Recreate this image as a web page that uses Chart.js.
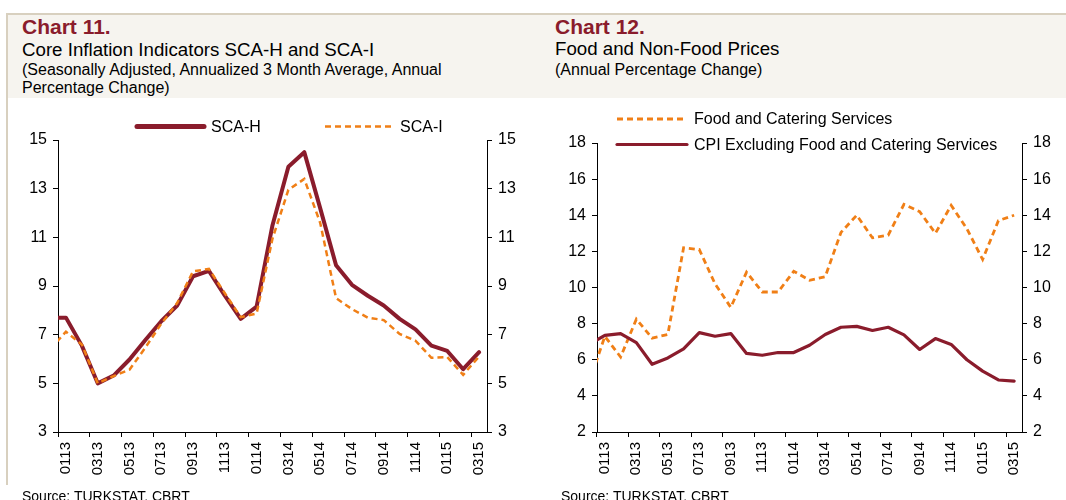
<!DOCTYPE html>
<html><head><meta charset="utf-8">
<script src="https://cdn.jsdelivr.net/npm/chart.js@4/dist/chart.umd.min.js"></script>
<style>
html,body{margin:0;padding:0;background:#fff;width:1066px;height:500px;overflow:hidden;font-family:"Liberation Sans",Arial,sans-serif;}
#hdr{position:absolute;left:7px;top:13px;width:1059px;height:83px;background:#f6f4ef;border-top:2px solid #d8d0bf;}
#lborder{position:absolute;left:6px;top:13px;width:1.5px;height:472px;background:#d8d0bf;}
.t{position:absolute;white-space:nowrap;color:#000;}
.t1{font-weight:bold;font-size:21px;line-height:21px;color:#8a1c2c;}
.t2{font-size:18.7px;line-height:18.7px;}
.t3{font-size:16px;line-height:18px;}
.src{font-size:14px;line-height:14px;}
canvas{position:absolute;}
</style></head><body>
<div id="hdr"></div>
<div id="lborder"></div>
<div class="t t1" style="left:22px;top:15.5px">Chart 11.</div>
<div class="t t2" style="left:22px;top:41px">Core Inflation Indicators SCA-H and SCA-I</div>
<div class="t t3" style="left:22px;top:61px">(Seasonally Adjusted, Annualized 3 Month Average, Annual<br>Percentage Change)</div>
<div class="t t1" style="left:555px;top:15.5px">Chart 12.</div>
<div class="t t2" style="left:555px;top:40px">Food and Non-Food Prices</div>
<div class="t t3" style="left:555px;top:61px">(Annual Percentage Change)</div>
<canvas id="c1" width="533" height="404" style="left:0;top:96px"></canvas>
<canvas id="c2" width="533" height="404" style="left:533px;top:96px"></canvas>
<div class="t src" style="left:22px;top:489px">Source: TURKSTAT, CBRT</div>
<div class="t src" style="left:561px;top:489px">Source: TURKSTAT, CBRT</div>
<script>
// Months (first entry is the prior month, only visible as the clipped line start)
const months = ['1212','0113','0213','0313','0413','0513','0613','0713','0813','0913','1013','1113','1213',
                '0114','0214','0314','0414','0514','0614','0714','0814','0914','1014','1114','1214',
                '0115','0215','0315'];
const firstMonth = '0113';

// Chart 11
const scaH = [7.7, 7.7, 6.55, 5.0, 5.32, 5.98, 6.78, 7.55, 8.2, 9.4, 9.62, 8.6, 7.65,
              8.15, 11.5, 13.9, 14.5, 12.2, 9.85, 9.05, 8.6, 8.2, 7.65, 7.22, 6.55,
              6.33, 5.58, 6.28];
const scaI = [6.4, 7.12, 6.6, 5.0, 5.3, 5.56, 6.47, 7.45, 8.3, 9.6, 9.7, 8.7, 7.72,
              7.87, 10.95, 12.95, 13.4, 11.6, 8.5, 8.05, 7.7, 7.6, 7.03, 6.75, 6.05,
              6.08, 5.35, 6.1];
const ticks11 = [3, 5, 7, 9, 11, 13, 15];

// Chart 12
const foodCatering = [4.75, 7.3, 6.15, 8.25, 7.2, 7.4, 12.2, 12.1, 10.2, 8.9, 10.85, 9.75, 9.75,
                      10.9, 10.4, 10.6, 13.05, 14.0, 12.75, 12.9, 14.6, 14.2, 13.0, 14.55, 13.25,
                      11.55, 13.7, 14.0];
const cpiExFood = [6.85, 7.35, 7.45, 6.95, 5.75, 6.1, 6.6, 7.5, 7.3, 7.45, 6.35, 6.25, 6.4,
                   6.4, 6.8, 7.4, 7.8, 7.85, 7.62, 7.8, 7.38, 6.57, 7.17, 6.85, 6.0,
                   5.37, 4.88, 4.82];
const ticks12 = [2, 4, 6, 8, 10, 12, 14, 16, 18];

const RED = '#8a1c2c', ORANGE = '#f07f16';
const FONT = '"Liberation Sans", Arial, sans-serif';
Chart.defaults.font.family = FONT;
Chart.defaults.color = '#000';

const lineLegend = {
  id: 'lineLegend',
  afterDatasetsDraw(chart, args, opts) {
    const ctx = chart.ctx;
    ctx.save();
    opts.items.forEach((it, i) => {
      const ds = chart.data.datasets[i];
      ctx.beginPath();
      ctx.strokeStyle = ds.borderColor;
      ctx.lineWidth = it.w || ds.borderWidth;
      ctx.setLineDash(ds.borderDash || []);
      ctx.lineCap = ds.borderDash ? 'butt' : 'round';
      ctx.moveTo(it.x1, it.y); ctx.lineTo(it.x2, it.y); ctx.stroke();
      ctx.setLineDash([]);
      ctx.fillStyle = '#000';
      ctx.font = opts.font;
      ctx.textBaseline = 'middle';
      ctx.textAlign = 'left';
      ctx.fillText(ds.label, it.tx, it.y + 1);
    });
    ctx.restore();
  }
};

function yAxis(pos, tickVals, width) {
  return {
    type: 'linear', position: pos,
    min: tickVals[0], max: tickVals[tickVals.length - 1],
    ticks: { stepSize: tickVals[1] - tickVals[0], color: '#000', font: { size: 16 }, padding: 6 },
    grid: { drawOnChartArea: false, drawTicks: true, tickLength: 5, tickColor: '#000' },
    border: { display: true, color: '#000', width: 1 },
    afterFit(s) { s.width = width; }
  };
}

function xAxis() {
  return {
    type: 'category', min: firstMonth, offset: true,
    grid: { display: true, drawOnChartArea: false, drawTicks: true, tickLength: 5, offset: true,
            tickColor: c => (c.index % 2 === 0 ? '#000' : 'rgba(0,0,0,0)') },
    border: { display: true, color: '#000', width: 1 },
    ticks: { autoSkip: false, maxRotation: 90, minRotation: 90, padding: 5, color: '#000',
             font: { size: 15 },
             callback(v, i) { return i % 2 === 0 ? this.getLabelForValue(v) : ''; } },
    afterFit(s) { s.height = 68; }
  };
}

function makeChart(id, datasets, tickVals, padLeft, yW, y2W, padTop, legendItems) {
  return new Chart(document.getElementById(id), {
    type: 'line',
    data: { labels: months, datasets },
    options: {
      responsive: false, animation: false,
      layout: { padding: { top: padTop, left: padLeft, right: 0, bottom: 0 } },
      elements: { point: { radius: 0 }, line: { tension: 0 } },
      plugins: { legend: { display: false }, tooltip: { enabled: false },
                 lineLegend: { font: '16px ' + FONT, items: legendItems } },
      scales: { x: xAxis(), y: yAxis('left', tickVals, yW), y2: yAxis('right', tickVals, y2W) }
    },
    plugins: [lineLegend]
  });
}

makeChart('c1', [
  { label: 'SCA-H', data: scaH, borderColor: RED, borderWidth: 4, borderJoinStyle: 'round', borderCapStyle: 'round', order: 1 },
  { label: 'SCA-I', data: scaI, borderColor: ORANGE, borderWidth: 2.5, borderDash: [6, 4], order: 0 }
], ticks11, 0, 58, 46, 44, [
  { x1: 137, x2: 204, y: 30.5, tx: 211, w: 5 },
  { x1: 325, x2: 393, y: 30.5, tx: 400 }
]);

makeChart('c2', [
  { label: 'Food and Catering Services', data: foodCatering, borderColor: ORANGE, borderWidth: 2.8, borderDash: [6, 4], order: 1 },
  { label: 'CPI Excluding Food and Catering Services', data: cpiExFood, borderColor: RED, borderWidth: 3.2, borderJoinStyle: 'round', borderCapStyle: 'round', order: 0 }
], ticks12, 0, 64, 44, 47, [
  { x1: 84, x2: 154, y: 23, tx: 161 },
  { x1: 84, x2: 154, y: 48.5, tx: 161 }
]);
</script>
</body></html>
